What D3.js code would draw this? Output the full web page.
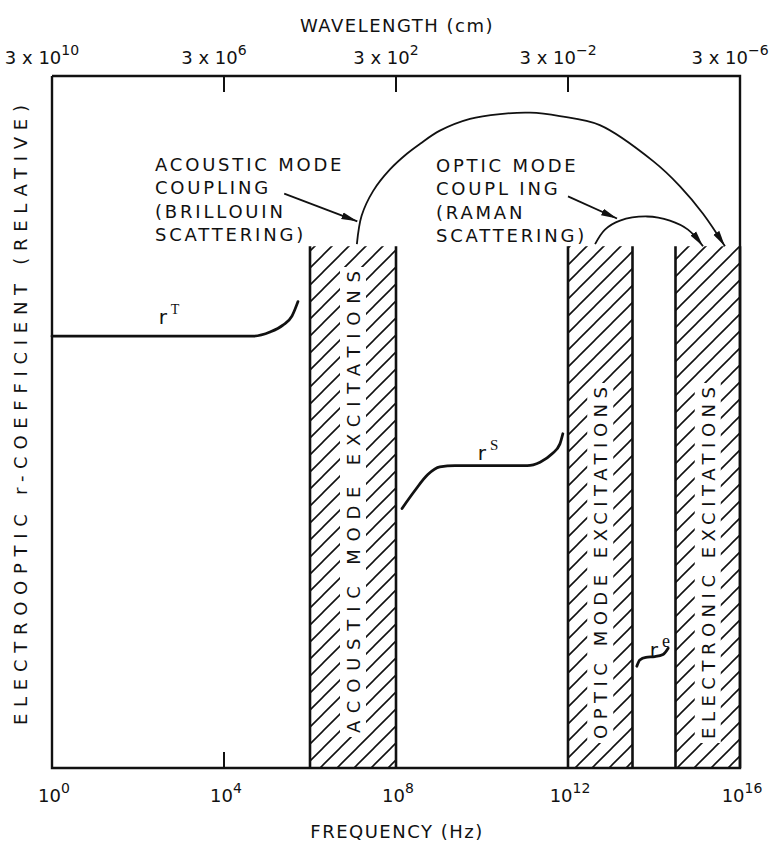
<!DOCTYPE html>
<html>
<head>
<meta charset="utf-8">
<script src="https://cdn.jsdelivr.net/npm/d3@7"></script>
<style>
  body { margin: 0; background: #fff; }
  svg text { font-family: "DejaVu Sans", sans-serif; fill: #111; }
</style>
</head>
<body>
<svg id="chart" width="783" height="843"></svg>
<script>
// frequency decades (log10 Hz) and the matching wavelength exponents (3 x 10^n cm)
const freqDecades = [0, 4, 8, 12, 16];
const wavelengthExps = ["10", "6", "2", "-2", "-6"];

// hatched excitation bands, in log10(Hz)
const bandNames = ["ACOUSTIC MODE EXCITATIONS", "OPTIC MODE EXCITATIONS", "ELECTRONIC EXCITATIONS"];
const bandStart = [6, 12, 14.5];
const bandEnd = [8, 13.5, 16];
const bandTop = 75.4;

// r-coefficient curves: [log10 f, relative value]
const rT = [[0, 62.4], [4.67, 62.4], [5.07, 63.0], [5.37, 64.0], [5.58, 65.3], [5.72, 67.4]];
const rS = [[8.14, 37.5], [8.44, 40.1], [8.74, 42.4], [9.02, 43.5], [9.37, 43.7], [11.05, 43.7],
            [11.35, 44.2], [11.63, 45.4], [11.81, 46.8], [11.88, 48.3]];
const rE = [[13.6, 14.7], [13.67, 15.6], [13.81, 16.0], [14.02, 16.1], [14.21, 16.4], [14.33, 17.3]];

// coupling arcs
const bigArc = [[7.09, 75.7], [7.2, 79.8], [7.47, 83.4], [7.86, 86.5], [8.26, 88.8], [8.56, 90.2],
                [9.02, 92.1], [9.72, 93.8], [10.42, 94.5], [11.12, 94.7], [11.81, 94.2],
                [12.74, 92.9], [13.98, 87.7], [14.6, 84.1], [15.14, 80.1], [15.65, 75.4]];
const smallArc = [[12.63, 75.7], [12.86, 77.8], [13.21, 79.1], [13.84, 79.7], [14.37, 79.1],
                  [14.79, 77.8], [15.14, 75.4]];
const acousticArrow = [[5.4, 83.0], [7.1, 79.0]];
const opticArrow = [[12.0, 82.6], [13.14, 79.4]];

const svg = d3.select("#chart");
const x = d3.scaleLinear().domain([0, 16]).range([52, 740]);
const y = d3.scaleLinear().domain([0, 100]).range([768, 76]);

const defs = svg.append("defs");
const hatch = defs.append("pattern")
  .attr("id", "hatch").attr("patternUnits", "userSpaceOnUse")
  .attr("width", 17).attr("height", 17);
hatch.append("path")
  .attr("d", "M-4,4 L4,-4 M0,17 L17,0 M13,21 L21,13")
  .attr("stroke", "#111").attr("stroke-width", 1.6);

defs.append("marker")
  .attr("id", "arrow").attr("markerUnits", "userSpaceOnUse")
  .attr("viewBox", "0 -4 16 8").attr("refX", 16).attr("refY", 0)
  .attr("markerWidth", 16).attr("markerHeight", 8).attr("orient", "auto")
  .append("path").attr("d", "M0,-3.5 L16,0 L0,3.5 Z").attr("fill", "#111");

// bands
const bands = svg.append("g");
bandNames.forEach((name, i) => {
  const x0 = x(bandStart[i]), x1 = x(bandEnd[i]);
  bands.append("rect")
    .attr("x", x0).attr("y", y(bandTop))
    .attr("width", x1 - x0).attr("height", y(0) - y(bandTop))
    .attr("fill", "url(#hatch)");
  bands.append("path")
    .attr("d", `M${x0},${y(0)} V${y(bandTop)} M${x1},${y(0)} V${y(bandTop)}`)
    .attr("stroke", "#111").attr("stroke-width", 2.6).attr("fill", "none");
});

// band labels (vertical, with white backing)
const bandLabelCfg = [{ cy: 502, len: 462 }, { cy: 563, len: 352 }, { cy: 563, len: 352 }];
bandNames.forEach((name, i) => {
  const cx = (x(bandStart[i]) + x(bandEnd[i])) / 2;
  const c = bandLabelCfg[i];
  svg.append("rect")
    .attr("x", cx - 13).attr("y", c.cy - c.len / 2 - 4)
    .attr("width", 26).attr("height", c.len + 8).attr("fill", "#fff");
  svg.append("text")
    .attr("transform", `translate(${cx + 7},${c.cy}) rotate(-90)`)
    .attr("text-anchor", "middle")
    .attr("font-size", 18)
    .attr("textLength", c.len).attr("lengthAdjust", "spacing")
    .text(name);
});

// frame (left, right, bottom, top)
svg.append("path")
  .attr("d", `M${x(0)},${y(100)} V${y(0)} H${x(16)} V${y(100)} H${x(0)}`)
  .attr("stroke", "#111").attr("stroke-width", 2.4).attr("fill", "none");

// ticks
const tickG = svg.append("g").attr("stroke", "#111").attr("stroke-width", 2);
freqDecades.slice(1, 4).forEach(d => {
  tickG.append("line").attr("x1", x(d)).attr("x2", x(d)).attr("y1", y(100)).attr("y2", y(100) + 16);
});
tickG.append("line").attr("x1", x(4)).attr("x2", x(4)).attr("y1", y(0)).attr("y2", y(0) - 16);

// curves
const curveLine = d3.line().x(d => x(d[0])).y(d => y(d[1])).curve(d3.curveMonotoneX);
const arcLine = d3.line().x(d => x(d[0])).y(d => y(d[1])).curve(d3.curveCatmullRom.alpha(0.5));
[rT, rS, rE].forEach(c => {
  svg.append("path").attr("d", curveLine(c))
    .attr("stroke", "#111").attr("stroke-width", 2.8).attr("fill", "none").attr("stroke-linecap", "round");
});
[bigArc, smallArc].forEach(c => {
  svg.append("path").attr("d", arcLine(c))
    .attr("stroke", "#111").attr("stroke-width", 1.8).attr("fill", "none")
    .attr("marker-end", "url(#arrow)");
});
[acousticArrow, opticArrow].forEach(c => {
  svg.append("path").attr("d", d3.line().x(d => x(d[0])).y(d => y(d[1]))(c))
    .attr("stroke", "#111").attr("stroke-width", 1.8).attr("fill", "none")
    .attr("marker-end", "url(#arrow)");
});

// curve labels
function rLabel(px, py, sup, supSize) {
  const t = svg.append("text").attr("x", px).attr("y", py).attr("font-size", 20);
  t.append("tspan").text("r");
  t.append("tspan").attr("dx", 4).attr("dy", -10).attr("font-size", supSize)
    .attr("font-family", "Liberation Serif, serif").text(sup);
}
rLabel(x(2.48), 324, "T", 14);
rLabel(x(9.9), 460, "S", 15);
rLabel(x(13.9), 657, "e", 18);

// annotation blocks
function block(px, py, lines) {
  lines.forEach((s, i) => {
    svg.append("text").attr("x", px).attr("y", py + i * 23.3)
      .attr("font-size", 18).attr("letter-spacing", 2.8).text(s);
  });
}
block(155, 171, ["ACOUSTIC MODE", "COUPLING", "(BRILLOUIN", "SCATTERING)"]);
block(436, 172, ["OPTIC MODE", "COUPL ING", "(RAMAN", "SCATTERING)"]);

// bottom tick labels
freqDecades.forEach(d => {
  const t = svg.append("text").attr("x", x(d) + 2).attr("y", 802)
    .attr("text-anchor", "middle").attr("font-size", 18);
  t.append("tspan").text("10");
  t.append("tspan").attr("dy", -9).attr("font-size", 14).text(d);
});
// top tick labels
wavelengthExps.forEach((e, i) => {
  const t = svg.append("text").attr("x", x(freqDecades[i]) - 10).attr("y", 64)
    .attr("text-anchor", "middle").attr("font-size", 18);
  t.append("tspan").text("3 x 10");
  t.append("tspan").attr("dy", -9).attr("font-size", 14).text(e.replace("-", "\u2212"));
});

// axis titles
svg.append("text").attr("x", 397).attr("y", 32).attr("text-anchor", "middle")
  .attr("font-size", 18).attr("letter-spacing", 1.5).text("WAVELENGTH (cm)");
svg.append("text").attr("x", 397).attr("y", 838).attr("text-anchor", "middle")
  .attr("font-size", 18).attr("letter-spacing", 1.5).text("FREQUENCY (Hz)");
svg.append("text")
  .attr("transform", "translate(27,415) rotate(-90)")
  .attr("text-anchor", "middle").attr("font-size", 18)
  .attr("textLength", 620).attr("lengthAdjust", "spacing")
  .text("ELECTROOPTIC r-COEFFICIENT (RELATIVE)");
</script>
</body>
</html>
